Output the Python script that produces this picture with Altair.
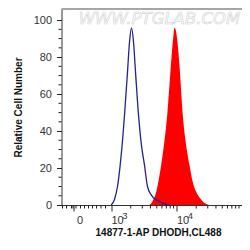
import altair as alt
import pandas as pd

# Fluorescence position (log10 intensity, biexponential display) and relative cell number
blue_log = [3.003, 3.053, 3.099, 3.140, 3.176, 3.206, 3.252, 3.282, 3.313, 3.344, 3.374,
            3.420, 3.466, 3.511, 3.557, 3.614, 3.679, 3.766, 3.832, 3.893]
blue_count = [0, 3, 10, 21.6, 35, 48.6, 72, 88, 95.8, 88, 72,
              48.6, 32, 21.6, 10, 5.5, 3, 1.5, 0.4, 0]

red_log = [3.588, 3.634, 3.690, 3.725, 3.766, 3.817, 3.858, 3.893, 3.924, 3.954, 3.969,
           3.992, 4.015, 4.046, 4.096, 4.137, 4.198, 4.244, 4.301, 4.351, 4.412, 4.504]
red_count = [0, 2, 7, 13, 21.6, 35, 48.6, 65, 80, 92, 95.8,
             94, 88, 75, 48.6, 35, 21.6, 13, 7, 4, 1.5, 0]

zero_pos = 2.43
x_major = [zero_pos, 3, 4, 5]
exp_pos = [3, 4]
exponents = ["3", "4"]
x_minor = [2.2595, 2.3206, 2.3969, 2.4198, 2.4656, 2.5344, 2.5954,
           2.6565, 2.7176, 2.7786, 2.8473, 2.916,
           3.30103, 3.47712, 3.60206, 3.69897, 3.77815, 3.84510, 3.90309, 3.95424,
           4.30103, 4.47712, 4.60206, 4.69897, 4.77815, 4.84510, 4.90309, 4.95424]
y_major = [0, 20, 40, 60, 80, 100]
y_minor = [5, 10, 15, 25, 30, 35, 45, 50, 55, 65, 70, 75, 85, 90, 95]

x_title = "14877-1-AP DHODH,CL488"
y_title = "Relative Cell Number"
watermark = "WWW.PTGLAB.COM"

blue_df = pd.DataFrame({"u": blue_log, "v": blue_count})
red_df = pd.DataFrame({"u": red_log, "v": red_count})
exp_df = pd.DataFrame({"u": exp_pos, "e": exponents})
xmin_df = pd.DataFrame({"u": x_minor})
ymin_df = pd.DataFrame({"v": y_minor})
wm_df = pd.DataFrame({"u": [3.74], "v": [100.6], "t": [watermark]})

FONT = "Liberation Sans"
W = 180.5
xscale = alt.Scale(domain=[2.244, 5.0], nice=False, zero=False)
yscale = alt.Scale(domain=[0, 106], nice=False, zero=False)

x_axis = alt.Axis(
    values=x_major,
    labelExpr="datum.value < 2.9 ? '0' : '10'",
    labelOverlap=False, labelFlush=False, grid=False,
    tickSize=6, tickColor="#222", domainColor="#333", tickWidth=1,
    labelFont=FONT, labelFontSize=11, labelColor="#333", labelPadding=3, labelOffset=6,
    title=x_title, titleFont=FONT, titleFontSize=10, titleFontWeight="bold", titleColor="#111",
    titleX=96.5, titleY=30, titleAlign="center", titleBaseline="alphabetic",
)
y_axis = alt.Axis(
    values=y_major,
    labelOverlap=False, labelFlush=False, grid=False,
    tickSize=5, tickColor="#222", domainColor="#333",
    labelFont=FONT, labelFontSize=11, labelColor="#333", labelPadding=5,
    title=y_title, titleFont=FONT, titleFontSize=10, titleFontWeight="bold", titleColor="#111",
    titleX=-43.5, titleY=98, titleAngle=-90, titleAlign="center", titleBaseline="middle",
)

X = alt.X("u:Q", scale=xscale, axis=x_axis)
Y = alt.Y("v:Q", scale=yscale, axis=y_axis)

wm = alt.Chart(wm_df).mark_text(
    font="DejaVu Sans", fontSize=16.5, fontStyle="italic", fill="white",
    stroke="#d0d0d0", strokeWidth=0.6,
).encode(x=X, y=Y, text="t:N")

red = alt.Chart(red_df).mark_area(color="#ff0000", interpolate="monotone").encode(x=X, y=Y)

blue = alt.Chart(blue_df).mark_line(color="#23238c", strokeWidth=1.3, interpolate="monotone").encode(x=X, y=Y)

xminor = alt.Chart(xmin_df).mark_rule(color="#222", strokeWidth=1).encode(
    x=X, y=alt.value(196), y2=alt.value(199.5))

yminor = alt.Chart(ymin_df).mark_rule(color="#222", strokeWidth=1).encode(
    y=Y, x=alt.value(0), x2=alt.value(-3))

exps = alt.Chart(exp_df).mark_text(font=FONT, fontSize=9.5, color="#333", dx=14, baseline="middle").encode(
    x=X, y=alt.value(206.5), text="e:N")

top = alt.Chart(wm_df).mark_rule(color="#888", strokeWidth=1.5).encode(
    x=alt.value(0), x2=alt.value(W), y=alt.value(0))

chart = alt.layer(wm, red, blue, xminor, yminor, exps, top).properties(
    width=W, height=196,
    autosize=alt.AutoSizeParams(type="none"),
    padding={"left": 53.5, "top": 1, "right": 0, "bottom": 32},
).configure_view(stroke=None)

chart.save("out.html", embed_options={"renderer": "svg", "actions": False})
